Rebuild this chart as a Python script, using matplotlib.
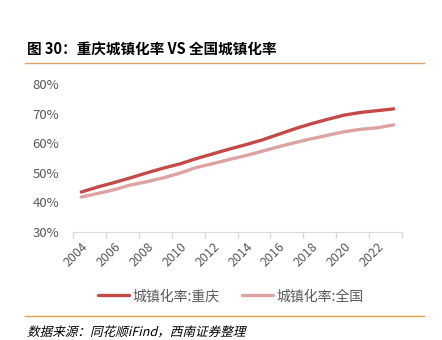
import matplotlib
matplotlib.use("Agg")
from matplotlib import pyplot as plt
from matplotlib.lines import Line2D
from matplotlib.textpath import TextPath
from matplotlib.patches import PathPatch
from matplotlib.font_manager import FontProperties
from matplotlib.transforms import Affine2D

plt.rcParams['font.family'] = ['Noto Sans CJK SC', 'DejaVu Sans']

years = [str(y) for y in range(2004, 2024)]
chongqing = [43.5, 45.2, 46.7, 48.3, 50.0, 51.6, 53.0, 54.8, 56.4, 58.0,
             59.5, 61.1, 63.0, 64.9, 66.6, 68.1, 69.5, 70.4, 71.0, 71.6]
national = [41.8, 43.0, 44.3, 45.9, 47.0, 48.3, 49.9, 51.8, 53.1, 54.5,
            55.8, 57.3, 58.8, 60.2, 61.5, 62.7, 63.9, 64.7, 65.2, 66.2]
y_ticks = [30, 40, 50, 60, 70, 80]

dark = "#C44A48"
light = "#DCA3A2"
gray = "#595959"

fig = plt.figure(figsize=(4.42, 3.4), dpi=100)

# title and rule lines
fig.text(27 / 442, 1 - 49 / 340, "图 30：重庆城镇化率 VS 全国城镇化率",
         fontsize=10.5, fontweight="bold", va="center", ha="left", color="black")
fig.add_artist(Line2D([25 / 442, 424 / 442], [1 - 63 / 340, 1 - 63 / 340],
                      color="#D9A36A", lw=1.0))
fig.add_artist(Line2D([25 / 442, 424 / 442], [1 - 316 / 340, 1 - 316 / 340],
                      color="#E0A04C", lw=1.0))

# slanted source note (CJK font has no italic, so skew the glyph outlines)
src = TextPath((0, 0), "数据来源：同花顺iFind，西南证券整理", size=12.6,
               prop=FontProperties(family="Noto Sans CJK SC"))
tr = Affine2D().skew_deg(14, 0).translate(27, 340 - 336)
fig.add_artist(PathPatch(src, transform=tr, color="black", lw=0))

ax = fig.add_axes([73 / 442, 1 - 232 / 340, 329 / 442, 148 / 340])
x = list(range(len(years)))
l1, = ax.plot(x, chongqing, color=dark, lw=2.4, solid_capstyle="round")
l2, = ax.plot(x, national, color=light, lw=2.4, solid_capstyle="round")

ax.set_xlim(-0.5, len(years) - 0.5)
ax.set_ylim(30, 80)
ax.set_yticks(y_ticks)
ax.set_yticklabels([f"{v}%" for v in y_ticks])

ax.set_xticks(x[::2])
ax.set_xticklabels(years[::2], rotation=45, ha="right", rotation_mode="anchor")
ax.set_xticks([i - 0.5 for i in range(0, len(years) + 1, 2)], minor=True)
ax.tick_params(axis="x", which="major", length=0, labelsize=9, labelcolor=gray, pad=6)
ax.tick_params(axis="x", which="minor", length=4, color="#D9D9D9", width=1)
ax.tick_params(axis="y", length=0, labelsize=9.5, labelcolor=gray, pad=10)

for side in ["top", "right", "left"]:
    ax.spines[side].set_visible(False)
ax.spines["bottom"].set_color("#D9D9D9")

fig.legend([l1, l2], ["城镇化率:重庆", "城镇化率:全国"], ncol=2,
           loc="center", bbox_to_anchor=(231 / 442, 1 - 296 / 340),
           frameon=False, fontsize=10, handlelength=2.2, columnspacing=1.6,
           handletextpad=0.3, labelcolor=gray)

fig.savefig("out.png", dpi=100)
